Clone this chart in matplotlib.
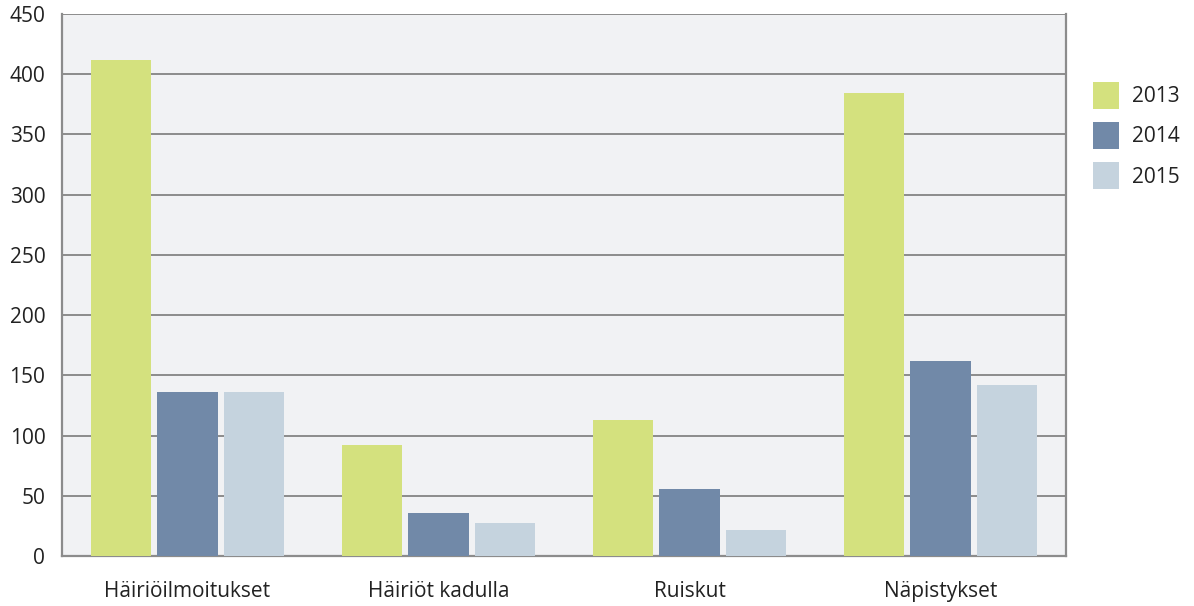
import numpy as np
import matplotlib.pyplot as plt
from matplotlib.patches import Patch

plt.rcParams['font.family'] = ['Open Sans', 'DejaVu Sans']

categories = ['Häiriöilmoitukset', 'Häiriöt kadulla', 'Ruiskut', 'Näpistykset']
years = ['2013', '2014', '2015']
values_2013 = [412, 92, 113, 384]
values_2014 = [136, 36, 56, 162]
values_2015 = [136, 27, 22, 142]
colors = ['#d4e17e', '#7189a8', '#c5d3de']

fig = plt.figure(figsize=(11.94, 6.06), dpi=100)
ax = fig.add_axes([62 / 1194, 1 - 556 / 606, 1004 / 1194, 542 / 606])
ax.set_facecolor('#f1f2f4')

x = np.arange(len(categories))
width = 0.24
step = 0.265
series = [values_2013, values_2014, values_2015]
for i, vals in enumerate(series):
    ax.bar(x + (i - 1) * step, vals, width, color=colors[i], zorder=3)

ax.set_xlim(-0.5, len(categories) - 0.5)
ax.set_ylim(0, 450)
ax.set_yticks(range(0, 451, 50))
ax.yaxis.grid(True, color='#8c8c8c', linewidth=1.4, zorder=1)
ax.set_axisbelow(True)

for s in ax.spines.values():
    s.set_color('#8c8c8c')
    s.set_linewidth(1.6)
ax.spines['top'].set_visible(False)

ax.set_xticks(x)
ax.set_xticklabels(categories)
ax.tick_params(axis='both', length=0, labelsize=15, colors='#222222')
ax.tick_params(axis='y', pad=12)
ax.tick_params(axis='x', pad=18)

handles = [Patch(facecolor=c, edgecolor='none') for c in colors]
fig.legend(handles, years, loc='upper left', bbox_to_anchor=(1074 / 1194, 1 - 63 / 606),
           frameon=False, fontsize=15, handlelength=1.25, handleheight=1.6,
           labelspacing=0.65, handletextpad=0.65, labelcolor='#222222')

fig.savefig('out.png', dpi=100)
